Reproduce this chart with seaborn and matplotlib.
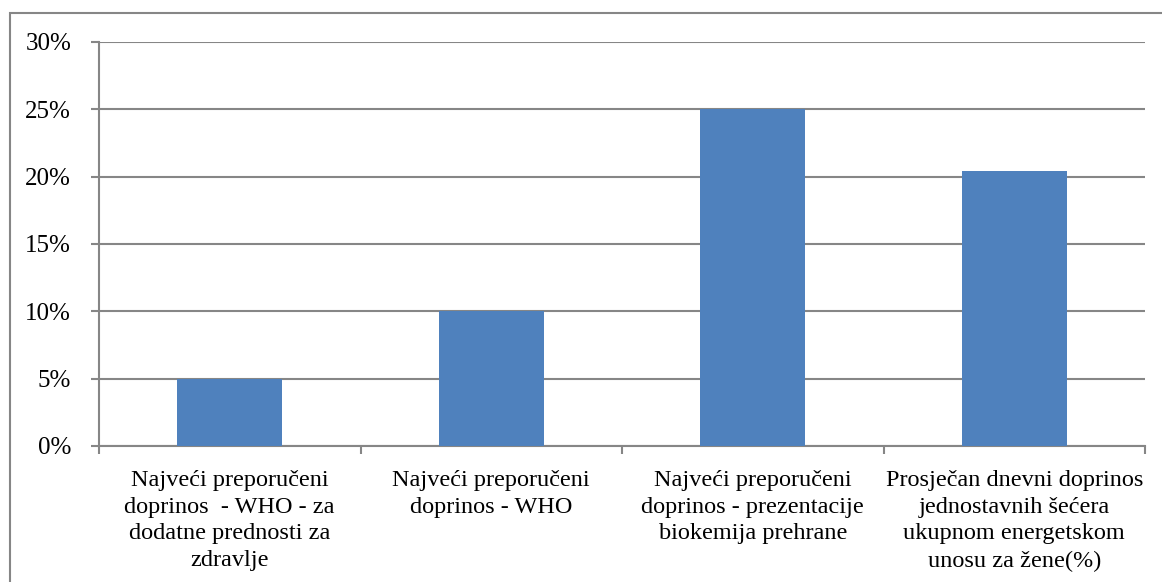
import matplotlib.pyplot as plt
import seaborn as sns
import pandas as pd
from matplotlib.ticker import PercentFormatter, FixedLocator
from matplotlib.patches import Rectangle

categories = [
    "Najveći preporučeni\ndoprinos  - WHO - za\ndodatne prednosti za\nzdravlje",
    "Najveći preporučeni\ndoprinos - WHO",
    "Najveći preporučeni\ndoprinos - prezentacije\nbiokemija prehrane",
    "Prosječan dnevni doprinos\njednostavnih šećera\nukupnom energetskom\nunosu za žene(%)",
]
values = [0.05, 0.10, 0.25, 0.204]
y_ticks = [0, 0.05, 0.10, 0.15, 0.20, 0.25, 0.30]

df = pd.DataFrame({"kategorija": categories, "udio": values})

sns.set_style("white")
plt.rcParams["font.family"] = ["Liberation Serif", "DejaVu Serif"]
plt.rcParams["text.color"] = "black"
plt.rcParams["xtick.labelcolor"] = "black"
plt.rcParams["ytick.labelcolor"] = "black"

fig = plt.figure(figsize=(11.62, 5.82), dpi=100)
ax = fig.add_axes([99 / 1162, 1 - 446 / 582, (1145 - 99) / 1162, (446 - 42) / 582])

grid_col = "#868686"
sns.barplot(data=df, x="kategorija", y="udio", color="#4F81BD", saturation=1,
            width=0.4, linewidth=0, ax=ax, zorder=3)

ax.set_ylim(0, 0.30)
ax.set_xlim(-0.5, len(categories) - 0.5)
ax.yaxis.set_major_locator(FixedLocator(y_ticks))
ax.yaxis.set_major_formatter(PercentFormatter(1.0, decimals=0))
ax.grid(axis="y", color=grid_col, linewidth=1.5, zorder=0)
ax.set_axisbelow(True)

for s in ["top", "right"]:
    ax.spines[s].set_visible(False)
for s in ["left", "bottom"]:
    ax.spines[s].set_color(grid_col)
    ax.spines[s].set_linewidth(1.5)

ax.tick_params(axis="y", length=6, color=grid_col, width=1.5, labelsize=18, pad=14,
               left=True, labelcolor="black")
ax.tick_params(axis="x", which="major", length=0, labelsize=17.5, pad=17, labelcolor="black")
ax.set_xticks(range(len(categories)))
ax.set_xticklabels(categories, linespacing=1.37)
ax.set_xticks([-0.5, 0.5, 1.5, 2.5, 3.5], minor=True)
ax.tick_params(axis="x", which="minor", length=5.5, color=grid_col, width=1.5, bottom=True)
ax.set_xlabel("")
ax.set_ylabel("")

fig.patches.append(Rectangle((9.5 / 1162, -0.01), 1.1, 1 - 12.5 / 582 + 0.01,
                             transform=fig.transFigure, fill=False,
                             edgecolor=grid_col, linewidth=1.5))

fig.savefig("out.png", dpi=100)
